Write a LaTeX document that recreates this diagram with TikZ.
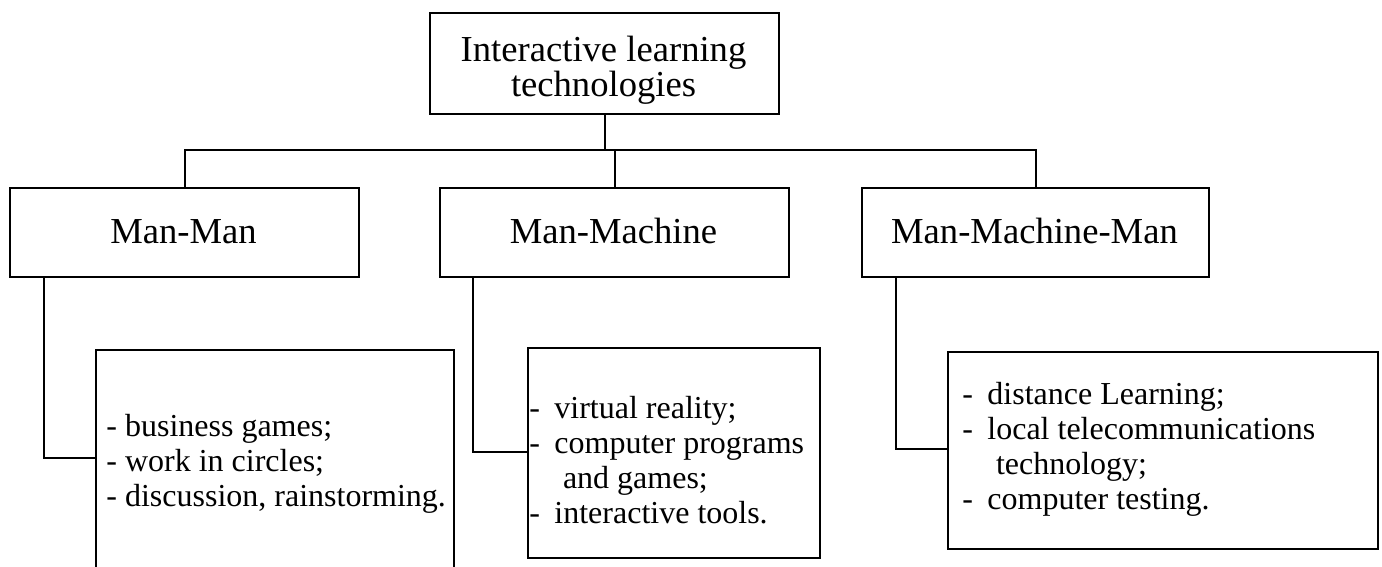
\documentclass[tikz,border=0pt]{standalone}
\usepackage{fontspec}
\setmainfont{Liberation Serif}
\newcommand\dsh{-\hspace{0.45em}}
\newcommand\ind{\hspace*{1.05em}}
\begin{document}
\begin{tikzpicture}[x=0.5pt,y=-0.5pt,
  box/.style={draw, line width=1pt, inner sep=0pt, anchor=north west},
  lbl/.style={font=\fontsize{18.3pt}{16.5pt}\selectfont, inner sep=0pt, align=center},
  lst/.style={font=\fontsize{16pt}{17.5pt}\selectfont, inner sep=0pt, align=left, anchor=west},
  conn/.style={line width=1pt}]
\useasboundingbox (0,0) rectangle (1382,567);
\clip (0,0) rectangle (1382,567);

% top box
\node[box, minimum width=174.5pt, minimum height=50.5pt] (top) at (429,12) {};
\node[lbl] (toptxt) at (603.5,70) {Interactive learning\\technologies};

% second level
\node[box, minimum width=174.5pt, minimum height=44.5pt] (mm) at (9,187) {};
\node[lbl, anchor=base] (mmtxt) at (183.5,243) {Man-Man};
\node[box, minimum width=174.5pt, minimum height=44.5pt] (mach) at (439,187) {};
\node[lbl, anchor=base] (machtxt) at (613.5,243) {Man-Machine};
\node[box, minimum width=173.5pt, minimum height=44.5pt] (mmm) at (861,187) {};
\node[lbl, anchor=base] (mmmtxt) at (1034.5,243) {Man-Machine-Man};

% third level
\node[box, minimum width=179pt, minimum height=113.5pt] (l1) at (95,349) {};
\node[lst] (t1) at (106,464) {- business games;\\- work in circles;\\- discussion, rainstorming.};
\node[box, minimum width=146pt, minimum height=105pt] (l2) at (527,347) {};
\node[lst] (t2) at (529,460) {\dsh virtual reality;\\\dsh computer programs\\\ind and games;\\\dsh interactive tools.};
\node[box, minimum width=215pt, minimum height=98.5pt] (l3) at (947,351) {};
\node[lst] (t3) at (962,449) {\dsh distance Learning;\\\dsh local telecommunications\\\ind technology;\\\dsh computer testing.};

% connectors
\coordinate (bus) at (603.5,150);
\draw[conn] (top.south) -- (top.south |- bus);
\draw[conn] (mm.north) |- (bus) -| (mmm.north);
\draw[conn] (mach.north) -- (mach.north |- bus);

\coordinate (k1) at (44,458);
\coordinate (k2) at (473,452);
\coordinate (k3) at (896,449);
\draw[conn] (mm.south -| k1) |- (l1.west |- k1);
\draw[conn] (mach.south -| k2) |- (l2.west |- k2);
\draw[conn] (mmm.south -| k3) |- (l3.west |- k3);
\end{tikzpicture}
\end{document}
